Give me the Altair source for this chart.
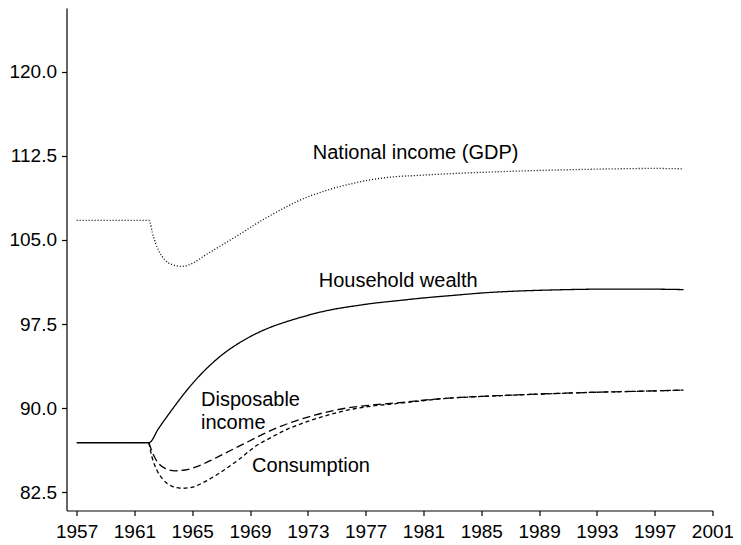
import altair as alt
import pandas as pd

# ---- data ----
gdp_years = [1957, 1958, 1959, 1960, 1961, 1962.0, 1962.32, 1962.67, 1963.13, 1963.58, 1964.27,
             1964.96, 1965.88, 1967.03, 1968.18, 1969.32, 1970.47, 1971.62, 1972.77, 1973.91,
             1975.06, 1976.21, 1977.35, 1978.6, 1980.8, 1983.1, 1985.4, 1987.7, 1990.0, 1992.3,
             1994.6, 1996.9, 1999.0]
gdp_vals = [106.74, 106.74, 106.74, 106.74, 106.74, 106.74, 105.25, 104.07, 103.18, 102.82, 102.64,
            102.88, 103.62, 104.52, 105.42, 106.35, 107.22, 108.02, 108.72, 109.25,
            109.70, 110.06, 110.36, 110.58, 110.76, 110.92, 111.04, 111.14, 111.22, 111.29,
            111.34, 111.37, 111.33]

wealth_years = [1957, 1958, 1959, 1960, 1961, 1962.0, 1962.67, 1963.58, 1964.73, 1965.88, 1967.03,
                1968.18, 1969.33, 1970.47, 1971.62, 1972.77, 1973.92, 1975.06, 1976.21, 1977.35,
                1979.19, 1980.8, 1983.1, 1985.4, 1987.7, 1990.0, 1992.3, 1994.6, 1996.9, 1999.0]
wealth_vals = [86.92, 86.92, 86.92, 86.92, 86.92, 86.92, 88.19, 89.83, 91.76, 93.39, 94.72,
               95.76, 96.59, 97.24, 97.75, 98.19, 98.58, 98.88, 99.11, 99.32,
               99.58, 99.80, 100.06, 100.30, 100.45, 100.54, 100.60, 100.62, 100.61, 100.57]

dispinc_years = [1962.0, 1962.32, 1962.67, 1963.13, 1963.82, 1964.51, 1965.42, 1966.57, 1967.71,
                 1968.86, 1970.01, 1971.16, 1972.31, 1973.46, 1974.6, 1975.75, 1977.35, 1979.19,
                 1982.4, 1987.0, 1991.6, 1996.2, 1999.0]
dispinc_vals = [86.92, 85.82, 85.08, 84.63, 84.42, 84.49, 84.84, 85.53, 86.27,
                87.01, 87.75, 88.40, 88.94, 89.38, 89.74, 90.03, 90.27, 90.48,
                90.87, 91.16, 91.37, 91.52, 91.61]

cons_years = [1962.0, 1962.21, 1962.55, 1963.01, 1963.58, 1964.27, 1964.96, 1965.88, 1967.03,
              1968.18, 1969.33, 1970.47, 1971.62, 1972.77, 1973.91, 1975.06, 1976.21, 1977.35,
              1979.19, 1982.4, 1987.0, 1991.6, 1996.2, 1999.0]
cons_vals = [86.92, 85.67, 84.49, 83.60, 83.06, 82.86, 82.95, 83.45, 84.34,
             85.38, 86.56, 87.40, 88.15, 88.72, 89.20, 89.62, 89.95, 90.17,
             90.42, 90.85, 91.15, 91.37, 91.52, 91.61]

series_names = ["National income (GDP)", "Household wealth", "Disposable income", "Consumption"]

x_ticks = [1957, 1961, 1965, 1969, 1973, 1977, 1981, 1985, 1989, 1993, 1997, 2001]
y_ticks = [82.5, 90.0, 97.5, 105.0, 112.5, 120.0]

label_texts = ["National income (GDP)", "Household wealth", "Disposable", "income", "Consumption"]
label_x = [1973.34, 1973.75, 1965.61, 1965.61, 1969.14]
label_y = [112.23, 100.80, 90.18, 88.11, 84.28]

# ---- build table ----
rows = []
for name, ys, vs in zip(series_names,
                        [gdp_years, wealth_years, dispinc_years, cons_years],
                        [gdp_vals, wealth_vals, dispinc_vals, cons_vals]):
    for yr, v in zip(ys, vs):
        rows.append({"series": name, "year": yr, "value": v})
df = pd.DataFrame(rows)
labels = pd.DataFrame({"text": label_texts, "year": label_x, "value": label_y})

x_scale = alt.Scale(domain=[1956.30, 2001], nice=False, zero=False)
y_scale = alt.Scale(domain=[80.88, 125.67], nice=False, zero=False)

x_enc = alt.X("year:Q", scale=x_scale,
              axis=alt.Axis(values=x_ticks, format="d", title=None, grid=False,
                            labelOverlap=False, labelFlush=False))
y_enc = alt.Y("value:Q", scale=y_scale,
              axis=alt.Axis(values=y_ticks, format=".1f", title=None, grid=False,
                            labelOverlap=False, labelFlush=False))

dash_map = {
    "National income (GDP)": [1, 2],
    "Household wealth": [1, 0],
    "Disposable income": [8, 4],
    "Consumption": [4, 3],
}

layers = []
for name in ["Consumption", "Disposable income", "National income (GDP)", "Household wealth"]:
    layers.append(
        alt.Chart(df).transform_filter(alt.datum.series == name)
        .mark_line(color="black", strokeWidth=1.3, strokeDash=dash_map[name],
                   interpolate="monotone")
        .encode(x=x_enc, y=y_enc, order="year:Q")
    )

text_layer = alt.Chart(labels).mark_text(
    align="left", baseline="alphabetic", font="Liberation Sans", fontSize=20, color="black"
).encode(x=alt.X("year:Q", scale=x_scale), y=alt.Y("value:Q", scale=y_scale), text="text:N")

chart = alt.layer(*layers, text_layer).properties(
    width=646, height=502.5,
    autosize=alt.AutoSizeParams(type="none"),
    padding={"left": 58.5, "top": 0, "right": 20.5, "bottom": 30},
).configure_view(stroke=None).configure_axis(
    domainColor="black", domainWidth=1.2, tickColor="black", tickWidth=1.2, tickSize=5,
    labelFont="Liberation Sans", labelFontSize=19, labelColor="black",
).configure_axisX(labelPadding=7).configure_axisY(labelPadding=5)

chart.save("out.html", embed_options={"renderer": "svg", "actions": False})
